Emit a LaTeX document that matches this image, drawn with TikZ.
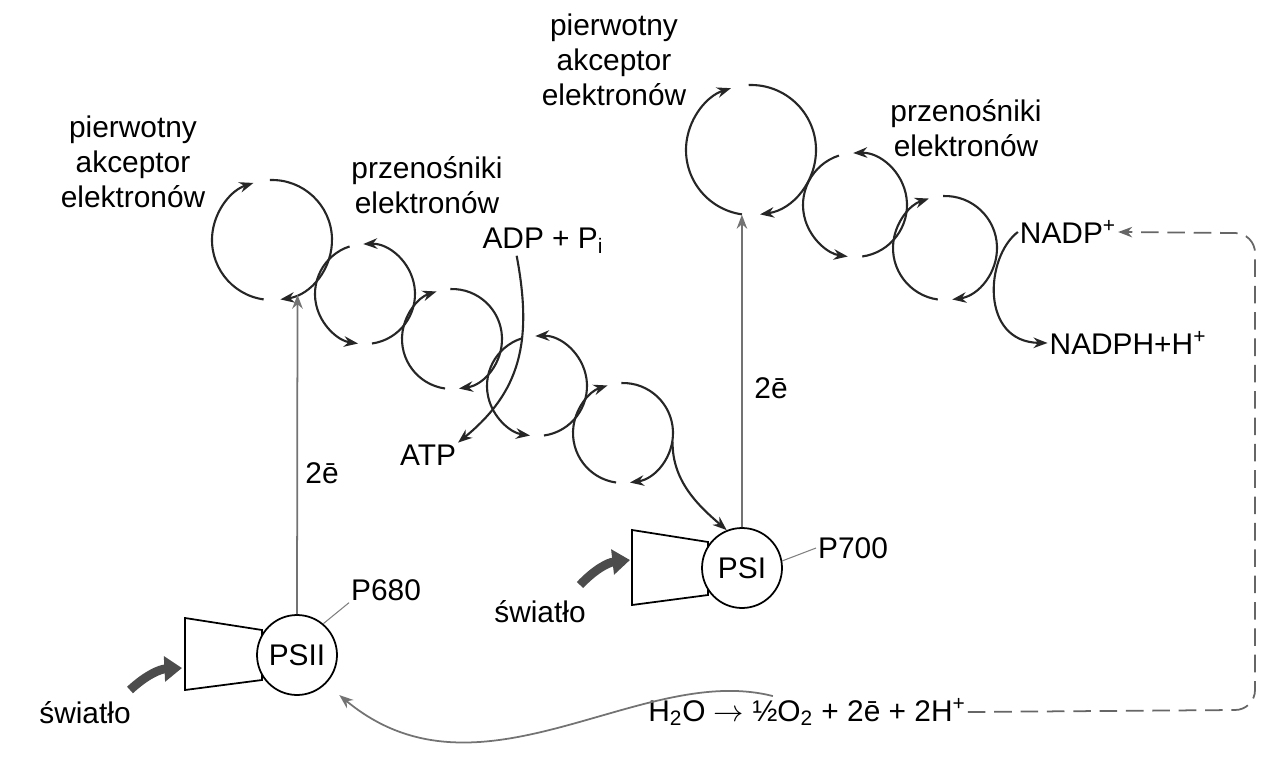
\documentclass[tikz,border=0pt]{standalone}
\usepackage{fontspec}
\setmainfont{Liberation Sans}
\usetikzlibrary{arrows.meta}
\begin{document}
\begin{tikzpicture}[x=0.02cm,y=0.02cm,>={Stealth[length=8pt,width=6pt]},
    every node/.style={font=\fontsize{17}{20}\selectfont}]
    % Styles
    \tikzstyle{carrier} = [->, line width=1.2pt, black!85]
    \tikzstyle{ps} = [circle, draw, line width=1pt, fill=white, minimum size=1.6cm, inner sep=0]
    \tikzstyle{antenna} = [draw, line width=1pt, fill=white]
    \tikzstyle{eflow} = [->, line width=1pt, gray!90!black]
    \tikzstyle{light} = [-{Triangle[length=10pt,width=14pt]}, line width=5pt, black!70]
    \tikzstyle{lbl} = [align=center, inner sep=1pt]

    \useasboundingbox (0,0) rectangle (1280,772);

    % ==== Carriers ====
    \foreach \n/\x/\y/\r in {c1/272/532/60, c3/452/433/50, c5/623/339/50, r1/751/622/65, r3/945/524/52}{
        \node[circle, minimum size={2*\r*0.02cm}, inner sep=0] (\n) at (\x,\y) {};
        \draw[carrier] (\n.center) ++(262:\r) arc[start angle=262, end angle=108, radius=\r];
        \draw[carrier] (\n.center) ++(92:\r) arc[start angle=92, end angle=-82, radius=\r];
    }
    \foreach \n/\x/\y/\r in {c2/365/478/50, c4/537/386/50, r2/855/567/52}{
        \node[circle, minimum size={2*\r*0.02cm}, inner sep=0] (\n) at (\x,\y) {};
        \draw[carrier] (\n.center) ++(-82:\r) arc[start angle=-82, end angle=92, radius=\r];
        \draw[carrier] (\n.center) ++(108:\r) arc[start angle=108, end angle=262, radius=\r];
    }

    % ==== Photosystems ====
    \draw[antenna] (185,154) -- (262,142) -- (262,92) -- (185,82) -- cycle;
    \node[ps] (psii) at (297,117) {PSII};
    \draw[antenna] (632,242) -- (708,230) -- (708,177) -- (632,167) -- cycle;
    \node[ps] (psi) at (742,204) {PSI};

    % ==== Labels ====
    \node[lbl] (acc1) at (133,610) {pierwotny\\akceptor\\elektronów};
    \node[lbl] (car1) at (427,587) {przenośniki\\elektronów};
    \node[lbl] (acc2) at (614,712) {pierwotny\\akceptor\\elektronów};
    \node[lbl] (car2) at (966,644) {przenośniki\\elektronów};
    \node[lbl] (adp) at (543,531) {ADP + P\textsubscript{i}};
    \node[lbl] (atp) at (428,317) {ATP};
    \node[lbl] (nadp) at (1068,540) {NADP\textsuperscript{+}};
    \node[lbl] (nadph) at (1128,429) {NADPH+H\textsuperscript{+}};
    \node[lbl] (e1) at (322,299) {2ē};
    \node[lbl] (e2) at (771,384) {2ē};
    \node[lbl] (p680) at (386,182) {P680};
    \node[lbl] (p700) at (853,224) {P700};
    \node[lbl] (sw1) at (85,59) {światło};
    \node[lbl] (sw2) at (540,160) {światło};
    \node[lbl] (h2o) at (807,60) {H\textsubscript{2}O $\rightarrow$ ½O\textsubscript{2} + 2ē + 2H\textsuperscript{+}};

    % ==== Arrows ====
    \draw[eflow] (psii.north) -- (c1.-65);
    \draw[eflow] (psi.north) -- (r1.-98);
    \draw[line width=0.6pt, gray] (psii.50) -- (p680.south west);
    \draw[line width=0.6pt, gray] (psi.10) -- (p700.west);
    \draw[light] (130,82) to[bend left=20] (182,104);
    \draw[light] (580,187) to[bend left=20] (630,212);

    % ADP -> ATP
    \draw[carrier] ([xshift=-15]adp.south) .. controls (533,430) and (520,380) .. (atp.north east);
    % chain -> PSI
    \draw[carrier] (c5.-10) .. controls (672,290) and (700,265) .. (psi.112);
    % NADP -> NADPH
    \draw[carrier] (nadp.west) .. controls (985,515) and (980,430) .. (nadph.west);

    % water splitting
    \draw[eflow, shorten >=0.35cm] (h2o.155) .. controls (640,110) and (480,-40) .. (psii.-45);
    \draw[->, line width=1pt, gray!80!black, dash pattern=on 10pt off 5pt]
        (h2o.east) -- (1235,62) to[out=0,in=-90] (1255,82) -- (1255,519)
        to[out=90,in=0] (1235,539) -- (nadp.east);
\end{tikzpicture}
\end{document}
